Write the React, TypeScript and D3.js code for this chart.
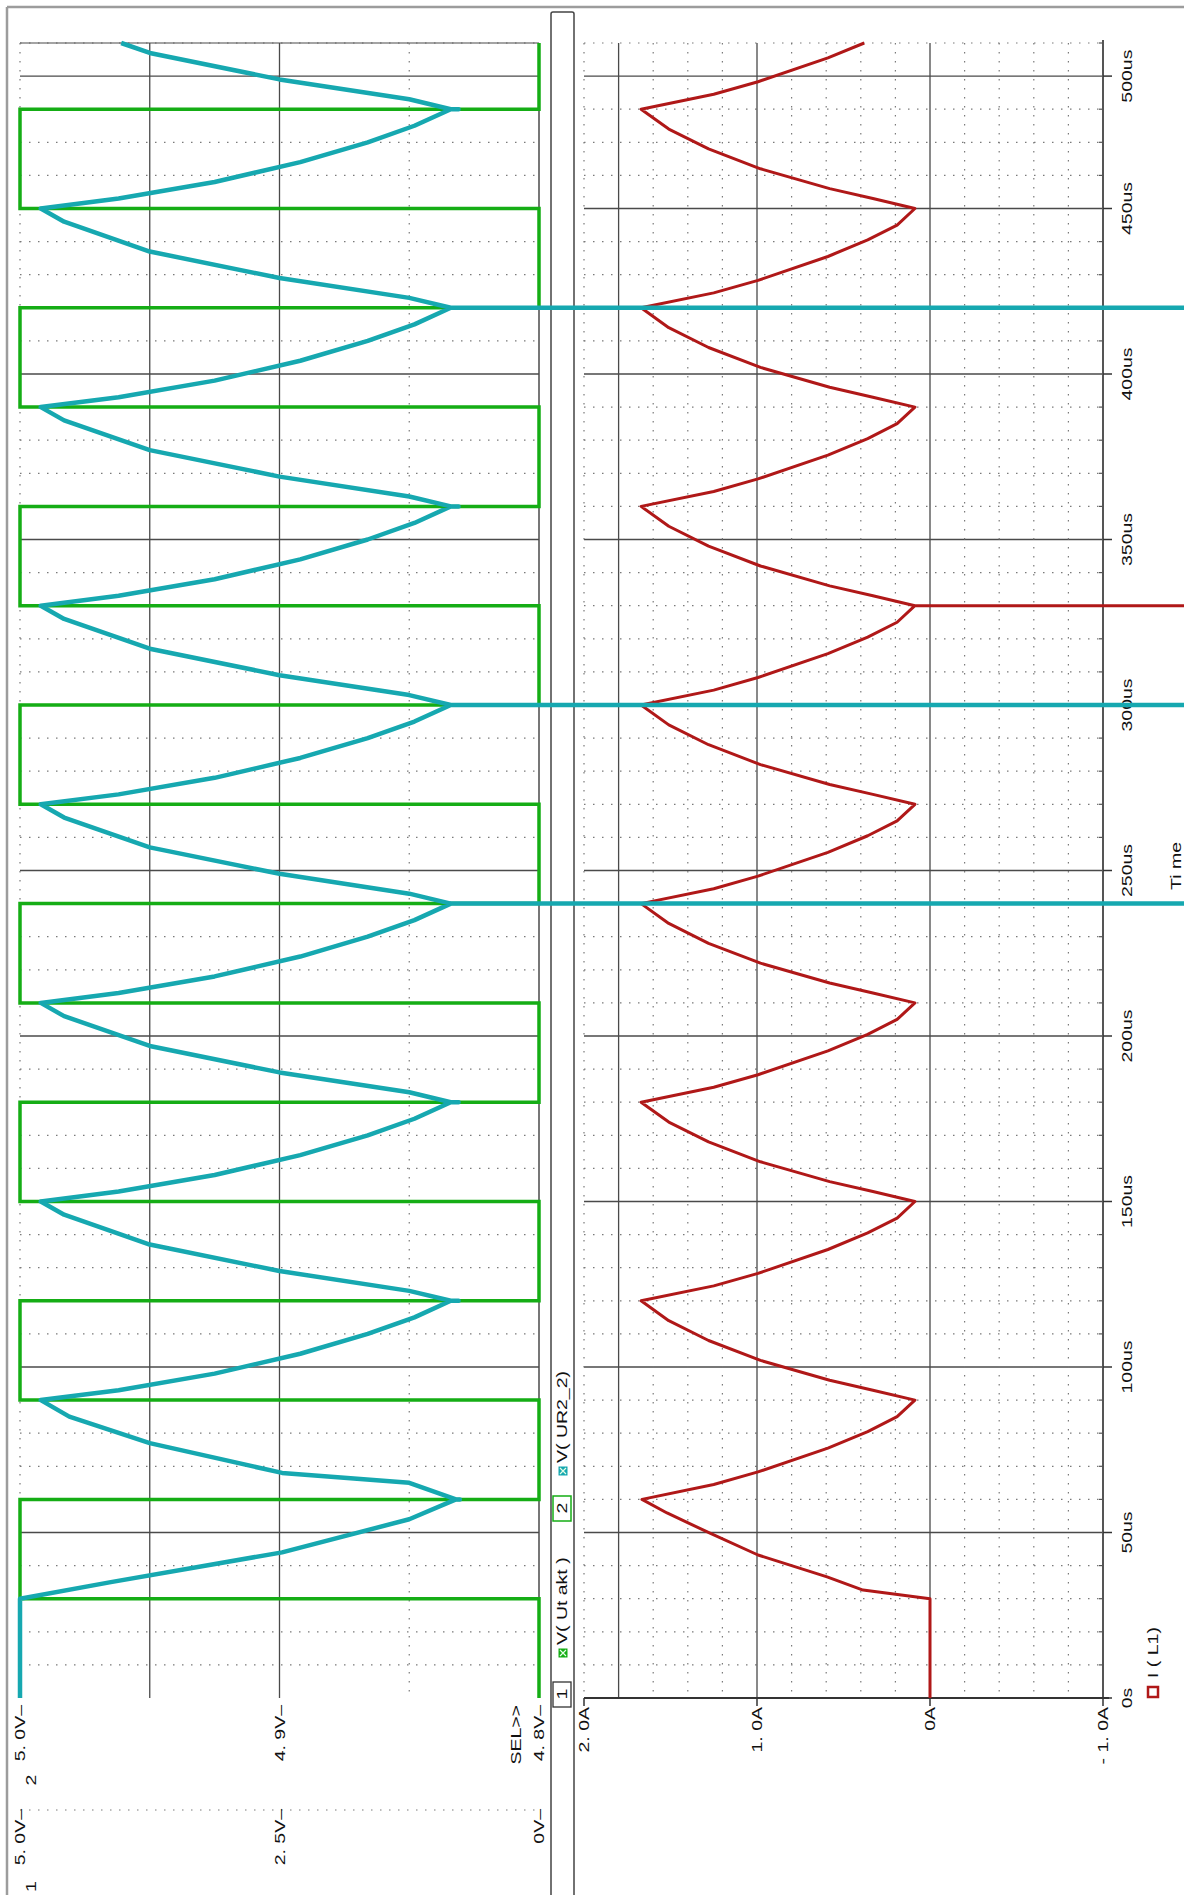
import React from 'react';
import * as d3 from 'd3';

const W = 1184;
const H = 1895;

// Time axis (microseconds). The top major grid line carries the "500us" label.
const timeMajor = [0, 50, 100, 150, 200, 250, 300, 350, 400, 450, 490];
const timeLabels = ['0s', '50us', '100us', '150us', '200us', '250us', '300us', '350us', '400us', '450us', '500us'];

// Voltage plot: axis 2 (4.8V .. 5.0V) and axis 1 (0V .. 5.0V)
const axis2Ticks = [5.0, 4.9, 4.8];
const axis2Labels = ['5. 0V–', '4. 9V–', '4. 8V–'];
const axis1Ticks = [5.0, 2.5, 0];
const axis1Labels = ['5. 0V–', '2. 5V–', '0V–'];
const voltGridSolid = [4.95, 4.9];
const voltGridDotted = [5.0, 4.85];

// Current plot
const ampTicks = [2, 1, 0, -1];
const ampLabels = ['2. 0A', '1. 0A', '0A', '- 1. 0A'];
const ampGridSolid = [1.8, 1.0, 0];
const ampGridDotted = [2.0, 1.6, 1.4, 1.2, 0.8, 0.6, 0.4, 0.2, -0.2, -0.4, -0.6, -0.8];

// V(Ut akt): square wave, [time us, volts]
const utAkt: [number, number][] = [
  [0, 0], [30, 0], [30, 5], [60, 5], [60, 0], [90, 0], [90, 5], [120, 5], [120, 0], [150, 0],
  [150, 5], [180, 5], [180, 0], [210, 0], [210, 5], [240, 5], [240, 0], [270, 0], [270, 5], [300, 5],
  [300, 0], [330, 0], [330, 5], [360, 5], [360, 0], [390, 0], [390, 5], [420, 5], [420, 0], [450, 0],
  [450, 5], [480, 5], [480, 0], [500, 0],
];

// V(UR2_2): [time us, volts]
const uR2: [number, number][] = [
  [0, 5.0], [30, 5.0],
  [35, 4.965], [44, 4.899], [54, 4.85], [60, 4.832], [60, 4.8305], [60, 4.832],
  [65, 4.85], [68, 4.899], [77, 4.95], [85, 4.981], [90, 4.992],
  [93, 4.962], [98, 4.925], [104, 4.892], [110, 4.866], [115, 4.848], [120, 4.834], [120, 4.831], [120, 4.834],
  [123, 4.85], [129, 4.9], [137, 4.95], [146, 4.983], [150, 4.992],
  [153, 4.962], [158, 4.925], [164, 4.892], [170, 4.866], [175, 4.848], [180, 4.834], [180, 4.831], [180, 4.834],
  [183, 4.85], [189, 4.9], [197, 4.95], [206, 4.983], [210, 4.992],
  [213, 4.962], [218, 4.925], [224, 4.892], [230, 4.866], [235, 4.848], [240, 4.834], [240, 4.3], [240, 4.834],
  [243, 4.85], [249, 4.9], [257, 4.95], [266, 4.983], [270, 4.992],
  [273, 4.962], [278, 4.925], [284, 4.892], [290, 4.866], [295, 4.848], [300, 4.834], [300, 4.3], [300, 4.834],
  [303, 4.85], [309, 4.9], [317, 4.95], [326, 4.983], [330, 4.992],
  [333, 4.962], [338, 4.925], [344, 4.892], [350, 4.866], [355, 4.848], [360, 4.834], [360, 4.831], [360, 4.834],
  [363, 4.85], [369, 4.9], [377, 4.95], [386, 4.983], [390, 4.992],
  [393, 4.962], [398, 4.925], [404, 4.892], [410, 4.866], [415, 4.848], [420, 4.834], [420, 4.3], [420, 4.834],
  [423, 4.85], [429, 4.9], [437, 4.95], [446, 4.983], [450, 4.992],
  [453, 4.962], [458, 4.925], [464, 4.892], [470, 4.866], [475, 4.848], [480, 4.834], [480, 4.831], [480, 4.834],
  [483, 4.85], [489, 4.9], [497, 4.95], [500, 4.961],
];

// I(L1): [time us, amps]
const iL1: [number, number][] = [
  [0, 0], [30, 0],
  [32.6, 0.387], [36.6, 0.595], [43.2, 0.994], [49.8, 1.272], [55.9, 1.52], [60, 1.665],
  [64.5, 1.25], [68.3, 0.994], [75.5, 0.59], [80.5, 0.36], [85, 0.19], [90, 0.087],
  [93, 0.33], [96, 0.58], [102, 0.98], [108, 1.28], [114, 1.51], [120, 1.67],
  [124.5, 1.25], [128.3, 0.994], [135.5, 0.59], [140.5, 0.36], [145, 0.19], [150, 0.087],
  [153, 0.33], [156, 0.58], [162, 0.98], [168, 1.28], [174, 1.51], [180, 1.67],
  [184.5, 1.25], [188.3, 0.994], [195.5, 0.59], [200.5, 0.36], [205, 0.19], [210, 0.087],
  [213, 0.33], [216, 0.58], [222, 0.98], [228, 1.28], [234, 1.51], [240, 1.67],
  [244.5, 1.25], [248.3, 0.994], [255.5, 0.59], [260.5, 0.36], [265, 0.19], [270, 0.087],
  [273, 0.33], [276, 0.58], [282, 0.98], [288, 1.28], [294, 1.51], [300, 1.67],
  [304.5, 1.25], [308.3, 0.994], [315.5, 0.59], [320.5, 0.36], [325, 0.19], [330, 0.087], [330, -2.0], [330, 0.087],
  [333, 0.33], [336, 0.58], [342, 0.98], [348, 1.28], [354, 1.51], [360, 1.67],
  [364.5, 1.25], [368.3, 0.994], [375.5, 0.59], [380.5, 0.36], [385, 0.19], [390, 0.087],
  [393, 0.33], [396, 0.58], [402, 0.98], [408, 1.28], [414, 1.51], [420, 1.67],
  [424.5, 1.25], [428.3, 0.994], [435.5, 0.59], [440.5, 0.36], [445, 0.19], [450, 0.087],
  [453, 0.33], [456, 0.58], [462, 0.98], [468, 1.28], [474, 1.51], [480, 1.67],
  [484.5, 1.25], [488.3, 0.994], [495.5, 0.59], [500, 0.38],
];

const GREEN = '#15ad15';
const CYAN = '#16a8b0';
const RED = '#b01818';
const GRID = '#4a4a4a';
const DOT = '#7a7a7a';
const FONT = '"Liberation Sans", Arial, sans-serif';
const STRETCH = 1.3;

const yT = d3.scaleLinear().domain([0, 500]).range([1698, 43]);
const xV2 = d3.scaleLinear().domain([4.8, 5.0]).range([539, 20]);
const xV1 = d3.scaleLinear().domain([0, 5]).range([539, 20]);
const xI = d3.scaleLinear().domain([-1, 2]).range([1103, 584]);

const timeMinor = d3.range(10, 501, 10).filter((t) => !timeMajor.includes(t));

type RTProps = {
  x: number;
  y: number;
  anchor?: 'start' | 'middle' | 'end';
  size?: number;
  fill?: string;
  children: React.ReactNode;
};

// Text running bottom-to-top, like the rest of the rotated plot window
function RText({ x, y, anchor = 'middle', size = 15, fill = '#111', children }: RTProps) {
  return (
    <text
      transform={`translate(${x},${y}) rotate(-90) scale(${STRETCH},1)`}
      textAnchor={anchor}
      dominantBaseline="central"
      fontSize={size}
      fontFamily={FONT}
      fill={fill}
    >
      {children}
    </text>
  );
}

function LegendIcon({ x, y, color }: { x: number; y: number; color: string }) {
  return (
    <g>
      <rect x={x - 4.5} y={y - 4.5} width={9} height={9} fill={color} />
      <path d={`M${x - 3},${y - 3}L${x + 3},${y + 3}M${x + 3},${y - 3}L${x - 3},${y + 3}`} stroke="#e8ffe8" strokeWidth={1.2} />
    </g>
  );
}

export default function App() {
  const lineV1 = d3
    .line<[number, number]>()
    .x((d) => xV1(d[1]))
    .y((d) => yT(d[0]));
  const lineV2 = d3
    .line<[number, number]>()
    .x((d) => xV2(d[1]))
    .y((d) => yT(d[0]));
  const lineI = d3
    .line<[number, number]>()
    .x((d) => xI(d[1]))
    .y((d) => yT(d[0]));

  const leftX0 = xV2(5.0);
  const leftX1 = xV2(4.8);
  const rightX0 = xI(2);
  const rightX1 = xI(-1);
  const yTop = yT(500);
  const yBot = yT(0);

  return (
    <svg width={W} height={H} style={{ position: 'absolute', left: 0, top: 0 }}>
      <rect x={0} y={0} width={W} height={H} fill="#fff" />

      {/* window frame */}
      <line x1={7} y1={7} x2={W} y2={7} stroke="#9c9c9c" strokeWidth={2.5} />
      <line x1={7} y1={7} x2={7} y2={H} stroke="#9c9c9c" strokeWidth={2.5} />

      {/* splitter bar between the two plots */}
      <rect x={551} y={12} width={23} height={H} rx={2} fill="#fff" stroke="#444" strokeWidth={1.5} />

      {/* ---- voltage plot grid ---- */}
      {timeMinor.map((t) => (
        <line key={`lm${t}`} x1={leftX0} x2={leftX1} y1={yT(t)} y2={yT(t)} stroke={DOT} strokeWidth={1.2} strokeDasharray="1.5 7.5" />
      ))}
      {timeMajor.filter((t) => t > 0).map((t) => (
        <line key={`lM${t}`} x1={leftX0} x2={leftX1} y1={yT(t)} y2={yT(t)} stroke={GRID} strokeWidth={1.3} />
      ))}
      <line x1={leftX0} x2={leftX1} y1={yTop} y2={yTop} stroke={GRID} strokeWidth={1.2} />
      {voltGridDotted.map((v) => (
        <line key={`vd${v}`} x1={xV2(v)} x2={xV2(v)} y1={yTop} y2={yBot} stroke={DOT} strokeWidth={1.2} strokeDasharray="1.5 7.5" />
      ))}
      {voltGridSolid.map((v) => (
        <line key={`vs${v}`} x1={xV2(v)} x2={xV2(v)} y1={yTop} y2={yBot} stroke={GRID} strokeWidth={1.3} />
      ))}
      <line x1={leftX1} x2={leftX1} y1={yTop} y2={yBot} stroke={GRID} strokeWidth={1.5} />

      {/* ---- current plot grid ---- */}
      {timeMinor.map((t) => (
        <line key={`rm${t}`} x1={rightX0} x2={rightX1} y1={yT(t)} y2={yT(t)} stroke={DOT} strokeWidth={1.2} strokeDasharray="1.5 7.5" />
      ))}
      {timeMajor.filter((t) => t > 0).map((t) => (
        <line key={`rM${t}`} x1={rightX0} x2={rightX1} y1={yT(t)} y2={yT(t)} stroke={GRID} strokeWidth={1.3} />
      ))}
      {ampGridDotted.map((a) => (
        <line key={`ad${a}`} x1={xI(a)} x2={xI(a)} y1={yTop} y2={yBot} stroke={DOT} strokeWidth={1.2} strokeDasharray="1.5 7.5" />
      ))}
      {ampGridSolid.map((a) => (
        <line key={`as${a}`} x1={xI(a)} x2={xI(a)} y1={yTop} y2={yBot} stroke={GRID} strokeWidth={1.3} />
      ))}
      {/* time axis (right) and amp axis (bottom) */}
      <line x1={rightX1} x2={rightX1} y1={40} y2={yBot} stroke="#555" strokeWidth={2} />
      <line x1={rightX0} x2={rightX1 + 6} y1={yBot} y2={yBot} stroke="#333" strokeWidth={1.8} />
      {timeMajor.map((t) => (
        <line key={`tt${t}`} x1={rightX1} x2={rightX1 + 9} y1={yT(t)} y2={yT(t)} stroke="#333" strokeWidth={1.5} />
      ))}
      {timeMinor.map((t) => (
        <line key={`tm${t}`} x1={rightX1 - 4} x2={rightX1} y1={yT(t)} y2={yT(t)} stroke="#555" strokeWidth={1.2} />
      ))}
      {ampTicks.map((a) => (
        <line key={`at${a}`} x1={xI(a)} x2={xI(a)} y1={yBot} y2={yBot + 8} stroke="#333" strokeWidth={1.5} />
      ))}

      {/* ---- axis labels ---- */}
      {timeMajor.map((t, i) => (
        <RText key={`tl${t}`} x={1127} y={yT(t)}>
          {timeLabels[i]}
        </RText>
      ))}
      <RText x={1176} y={866}>Ti me</RText>

      {axis2Ticks.map((v, i) => (
        <RText key={`a2${v}`} x={xV2(v)} y={1705} anchor="end">
          {axis2Labels[i]}
        </RText>
      ))}
      <RText x={31} y={1780}>2</RText>
      <RText x={516} y={1705} anchor="end">SEL&gt;&gt;</RText>
      <line x1={leftX0} x2={leftX1} y1={1810} y2={1810} stroke={DOT} strokeWidth={1.2} strokeDasharray="1.5 7.5" />
      {axis1Ticks.map((v, i) => (
        <RText key={`a1${v}`} x={xV1(v)} y={1809} anchor="end">
          {axis1Labels[i]}
        </RText>
      ))}
      <RText x={31} y={1892} anchor="start">1</RText>

      {ampTicks.map((a, i) => (
        <RText key={`al${a}`} x={xI(a)} y={1707} anchor="end">
          {ampLabels[i]}
        </RText>
      ))}

      {/* current legend */}
      <rect x={1148} y={1687} width={10} height={10} fill="#fff" stroke={RED} strokeWidth={2.5} />
      <RText x={1153} y={1678} anchor="start">I ( L1)</RText>

      {/* ---- traces ---- */}
      <path d={lineI(iL1) ?? ''} fill="none" stroke={RED} strokeWidth={3} strokeLinejoin="round" />
      <path d={lineV1(utAkt) ?? ''} fill="none" stroke={GREEN} strokeWidth={3.5} strokeLinejoin="miter" />
      <path d={lineV2(uR2) ?? ''} fill="none" stroke={CYAN} strokeWidth={4.5} strokeLinejoin="round" />

      {/* voltage legend inside the splitter bar */}
      <rect x={553} y={1682} width={18} height={25} fill="#fff" stroke="#333" strokeWidth={1.3} />
      <RText x={562} y={1694}>1</RText>
      <LegendIcon x={563} y={1653} color={GREEN} />
      <RText x={562} y={1645} anchor="start">V( Ut akt )</RText>
      <rect x={553} y={1496} width={18} height={25} fill="#fff" stroke={GREEN} strokeWidth={1.5} />
      <RText x={562} y={1508}>2</RText>
      <LegendIcon x={563} y={1471} color={CYAN} />
      <RText x={562} y={1463} anchor="start">V( UR2_2)</RText>
    </svg>
  );
}
